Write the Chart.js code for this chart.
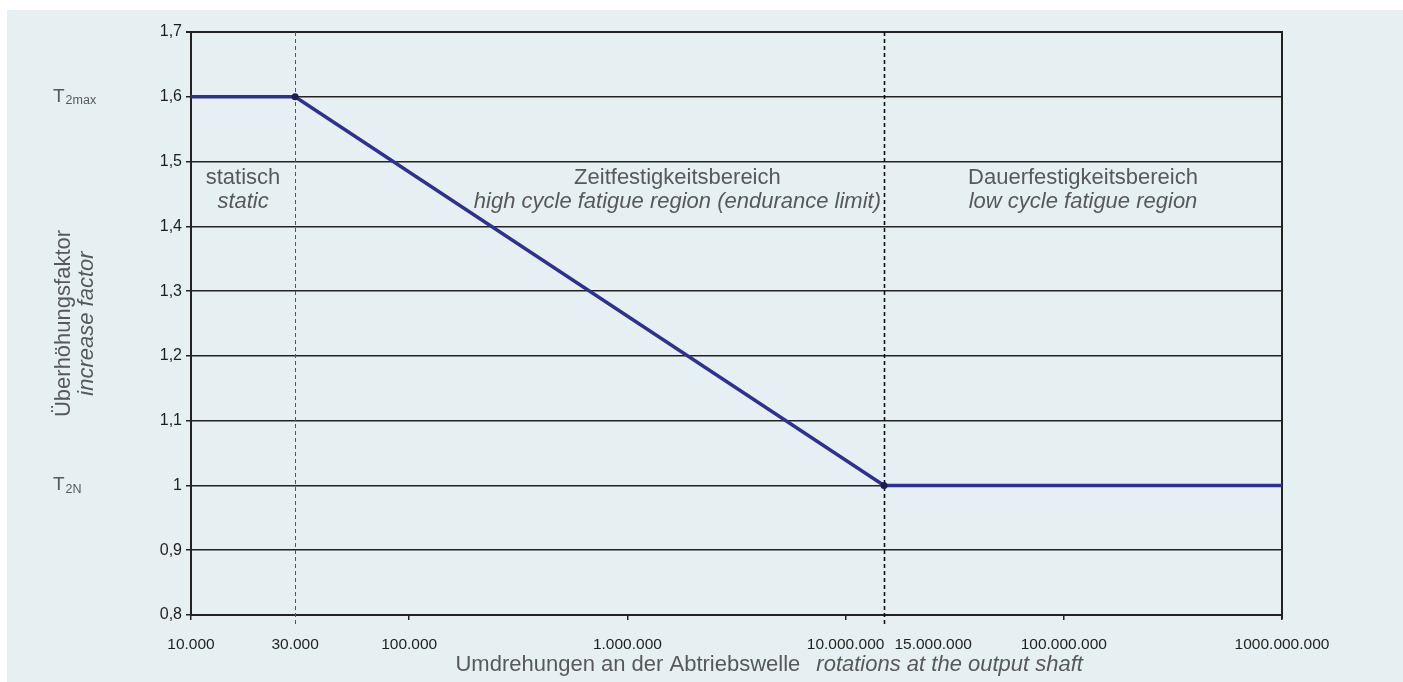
<!DOCTYPE html>
<html lang="de">
<head>
<meta charset="utf-8">
<title>Überhöhungsfaktor – Umdrehungen an der Abtriebswelle</title>
<script src="https://cdn.jsdelivr.net/npm/chart.js@4.4.1/dist/chart.umd.min.js"></script>
<style>
  html, body { margin: 0; padding: 0; background: #ffffff; }
  canvas { display: block; }
</style>
</head>
<body>
<canvas id="chart" width="1403" height="682"></canvas>
<script>
// Breakpoints of the load curve: rotations at the output shaft -> increase factor
const rotations = [10000, 30000, 15000000, 1000000000];
const increaseFactor = [1.6, 1.6, 1.0, 1.0];

// Logarithmic x axis: tick values and their printed labels
const xTickValues = [10000, 30000, 100000, 1000000, 10000000, 15000000, 100000000, 1000000000];
const xTickLabels = ['10.000', '30.000', '100.000', '1.000.000', '10.000.000', '15.000.000', '100.000.000', '1000.000.000'];

// Linear y axis: tick values and their printed labels
const yTickValues = [0.8, 0.9, 1.0, 1.1, 1.2, 1.3, 1.4, 1.5, 1.6, 1.7];
const yTickLabels = ['0,8', '0,9', '1', '1,1', '1,2', '1,3', '1,4', '1,5', '1,6', '1,7'];

// Torque levels named at the left margin
const torqueLevels = [1.6, 1.0];
const torqueSubscripts = ['2max', '2N'];

// Region names (German / English), one per interval between breakpoints
const regionTitles = ['statisch', 'Zeitfestigkeitsbereich', 'Dauerfestigkeitsbereich'];
const regionSubtitles = ['static', 'high cycle fatigue region (endurance limit)', 'low cycle fatigue region'];

const SANS = "'Liberation Sans', Arial, Helvetica, sans-serif";
const INK = '#1e1e1e';
const GREY = '#58585a';
const PANEL = '#e6f0f2';
const TICK_FONT = '15.5px ' + SANS;

const isDecade = v => Math.abs(Math.log10(v) - Math.round(Math.log10(v))) < 1e-9;

// Page background with the tinted panel
const backgroundPlugin = {
  id: 'panelBackground',
  beforeDraw(chart) {
    const { ctx, width, height } = chart;
    ctx.save();
    ctx.fillStyle = '#ffffff';
    ctx.fillRect(0, 0, width, height);
    ctx.fillStyle = PANEL;
    ctx.fillRect(7, 10, width - 7, height - 10);
    ctx.restore();
  }
};

// Right frame edge and the dashed region boundaries at the breakpoints
const framePlugin = {
  id: 'frameAndBoundaries',
  beforeDatasetsDraw(chart) {
    const { ctx, chartArea: ca, scales: { x } } = chart;
    ctx.save();
    ctx.strokeStyle = '#222222';
    ctx.lineWidth = 2;
    ctx.beginPath();
    ctx.moveTo(ca.right, ca.top - 1);
    ctx.lineTo(ca.right, ca.bottom + 4);
    ctx.stroke();

    const boundaries = [rotations[1], rotations[2]];
    const styles = [{ c: '#555555', w: 1 }, { c: '#111111', w: 1.6 }];
    boundaries.forEach((v, i) => {
      const px = Math.round(x.getPixelForValue(v)) + 0.5;
      ctx.strokeStyle = styles[i].c;
      ctx.lineWidth = styles[i].w;
      ctx.setLineDash([4, 3]);
      ctx.beginPath();
      ctx.moveTo(px, ca.top);
      ctx.lineTo(px, ca.bottom + 10);
      ctx.stroke();
    });
    ctx.restore();
  }
};

// Tick labels of the x axis, axis titles, region names and torque names
const labelPlugin = {
  id: 'annotations',
  afterDraw(chart) {
    const { ctx, chartArea: ca, scales: { x, y } } = chart;
    ctx.save();

    // x tick labels, pushed right when they would collide with their neighbour
    ctx.font = TICK_FONT;
    ctx.fillStyle = INK;
    ctx.textAlign = 'left';
    ctx.textBaseline = 'alphabetic';
    let prevRight = -Infinity;
    xTickValues.forEach((v, i) => {
      const w = ctx.measureText(xTickLabels[i]).width;
      let left = x.getPixelForValue(v) - w / 2;
      if (left < prevRight + 10) left = prevRight + 10;
      ctx.fillText(xTickLabels[i], left, ca.bottom + 34);
      prevRight = left + w;
    });

    // x axis title: German, then English in italics
    ctx.fillStyle = GREY;
    const t1 = 'Umdrehungen an der Abtriebswelle';
    const t2 = 'rotations at the output shaft';
    ctx.font = '22px ' + SANS;
    const w1 = ctx.measureText(t1).width;
    ctx.font = 'italic 22px ' + SANS;
    const w2 = ctx.measureText(t2).width;
    const gap = 16;
    const startX = ca.left + (ca.right - ca.left) * 0.53 - (w1 + gap + w2) / 2;
    ctx.font = '22px ' + SANS;
    ctx.fillText(t1, startX, ca.bottom + 56);
    ctx.font = 'italic 22px ' + SANS;
    ctx.fillText(t2, startX + w1 + gap, ca.bottom + 56);

    // y axis title, rotated
    const midY = (ca.top + ca.bottom) / 2;
    ctx.save();
    ctx.translate(70, midY);
    ctx.rotate(-Math.PI / 2);
    ctx.textAlign = 'center';
    ctx.font = '22px ' + SANS;
    ctx.fillText('Überhöhungsfaktor', 0, 0);
    ctx.restore();
    ctx.save();
    ctx.translate(93, midY);
    ctx.rotate(-Math.PI / 2);
    ctx.textAlign = 'center';
    ctx.font = 'italic 22px ' + SANS;
    ctx.fillText('increase factor', 0, 0);
    ctx.restore();

    // region names inside the plot, between the breakpoints;
    // the fatigue-strength block sits against its right boundary
    const flushRight = [false, true, false];
    const bandY = y.getPixelForValue(1.45);
    const edges = rotations.map(r => x.getPixelForValue(r));
    ctx.textAlign = 'center';
    regionTitles.forEach((title, i) => {
      ctx.font = '22px ' + SANS;
      const wa = ctx.measureText(title).width;
      ctx.font = 'italic 22px ' + SANS;
      const wb = ctx.measureText(regionSubtitles[i]).width;
      const widest = Math.max(wa, wb);
      let cx = (edges[i] + edges[i + 1]) / 2;
      if (flushRight[i] || cx + widest / 2 > edges[i + 1] - 3) cx = edges[i + 1] - 3 - widest / 2;
      ctx.font = '22px ' + SANS;
      ctx.fillText(title, cx, bandY - 10);
      ctx.font = 'italic 22px ' + SANS;
      ctx.fillText(regionSubtitles[i], cx, bandY + 14);
    });

    // torque names T2max / T2N in the left margin
    ctx.textAlign = 'left';
    torqueLevels.forEach((lvl, i) => {
      const py = y.getPixelForValue(lvl);
      ctx.font = '19px ' + SANS;
      ctx.fillText('T', 53, py + 5);
      const wt = ctx.measureText('T').width;
      ctx.font = '12.5px ' + SANS;
      ctx.fillText(torqueSubscripts[i], 53 + wt + 1, py + 7.5);
    });

    ctx.restore();
  }
};

const ctx = document.getElementById('chart').getContext('2d');
new Chart(ctx, {
  type: 'line',
  data: {
    datasets: [{
      data: rotations.map((r, i) => ({ x: r, y: increaseFactor[i] })),
      borderColor: '#2e3192',
      borderWidth: 3.5,
      tension: 0,
      fill: false,
      pointRadius: c => (c.dataIndex === 0 || c.dataIndex === rotations.length - 1) ? 0 : 3.5,
      pointBackgroundColor: '#1c1d55',
      pointBorderColor: '#1c1d55',
      pointBorderWidth: 0,
      clip: false
    }]
  },
  options: {
    responsive: false,
    animation: false,
    devicePixelRatio: 1,
    layout: { padding: { top: 32, right: 121, left: 0, bottom: 0 } },
    plugins: {
      legend: { display: false },
      tooltip: { enabled: false },
      title: { display: false }
    },
    scales: {
      x: {
        type: 'logarithmic',
        min: rotations[0],
        max: rotations[rotations.length - 1],
        afterBuildTicks: s => { s.ticks = xTickValues.map(v => ({ value: v })); },
        afterFit: s => { s.height = 67; },
        ticks: { display: false, autoSkip: false },
        grid: {
          display: true,
          drawOnChartArea: false,
          drawTicks: true,
          tickLength: 5,
          lineWidth: 1.5,
          color: c => (c.tick && isDecade(c.tick.value)) ? '#222222' : 'rgba(0,0,0,0)'
        },
        border: { display: true, color: '#222222', width: 2 }
      },
      y: {
        type: 'linear',
        min: yTickValues[0],
        max: yTickValues[yTickValues.length - 1],
        afterBuildTicks: s => { s.ticks = yTickValues.map(v => ({ value: v })); },
        afterFit: s => { s.width = 191; },
        ticks: {
          autoSkip: false,
          padding: 4,
          color: INK,
          font: { family: SANS, size: 16 },
          callback: (v, i) => yTickLabels[i]
        },
        grid: {
          color: '#222222',
          lineWidth: c => (c.index === yTickValues.length - 1) ? 2 : 1.5,
          drawTicks: true,
          tickLength: 5
        },
        border: { display: true, color: '#222222', width: 2 }
      }
    }
  },
  plugins: [backgroundPlugin, framePlugin, labelPlugin]
});
</script>
</body>
</html>
